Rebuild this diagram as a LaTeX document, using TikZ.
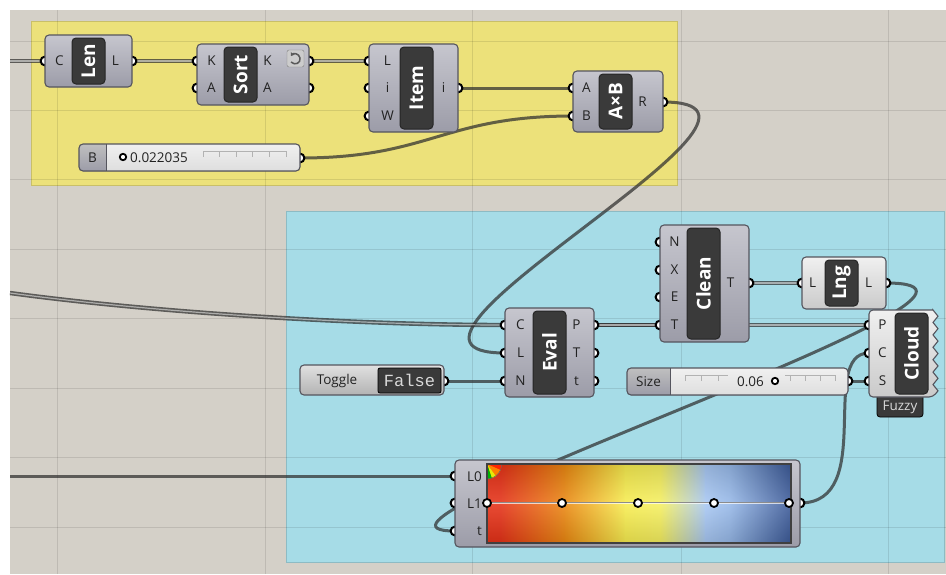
\documentclass[tikz,border=0pt]{standalone}
\usepackage{fontspec}
\setmainfont{Open Sans}
\newfontfamily\monofont{Liberation Mono}
\usetikzlibrary{calc,arrows.meta}
\pgfdeclarelayer{achtergrond}
\pgfdeclarelayer{draden}
\pgfdeclarelayer{poorten}
\pgfsetlayers{achtergrond,draden,poorten,main}
\definecolor{canvas}{HTML}{D4D0C8}
\definecolor{geel}{HTML}{ECE17A}
\definecolor{cyaan}{HTML}{A6DCE7}
\definecolor{draad}{HTML}{2E2E2E}
\definecolor{blokboven}{HTML}{C6C6CE}
\definecolor{blokonder}{HTML}{9C9CA8}
\definecolor{lichtboven}{HTML}{F0F0F0}
\definecolor{lichtonder}{HTML}{CACACA}
\definecolor{rand}{HTML}{55555E}
\definecolor{capsule}{HTML}{3A3A3A}
\definecolor{tekst}{HTML}{222222}
\tikzset{
    donker/.style={top color=blokboven, bottom color=blokonder, draw=rand, line width=1.1pt, rounded corners=4pt},
    licht/.style={top color=lichtboven, bottom color=lichtonder, draw=rand, line width=1.1pt, rounded corners=4pt},
    capsulestijl/.style={fill=capsule, draw=black!85, line width=1pt, rounded corners=4pt},
    titel/.style={text=white, font=\fontsize{19}{21}\selectfont\bfseries, rotate=90, inner sep=0pt},
    poortlabel/.style={text=tekst, font=\fontsize{13.5}{15}\selectfont, inner sep=0pt},
    poort/.style={fill=white, draw=black, line width=2pt},
    draadstijl/.style={draw=draad, line width=3pt, draw opacity=.72},
    lijst/.style={draw=draad, line width=4.4pt, draw opacity=.72, postaction={draw=white, draw opacity=.5, line width=1.2pt}},
    rail/.style={draw=black!30, line width=.7pt}
}
\NewDocumentCommand{\ghblok}{O{donker} m m m m m m m}{ % stijl, naam, x1, y1, x2, y2, capsule x, titel
    \coordinate (#2-w) at (#3,#4);
    \coordinate (#2-e) at (#5,#4);
    \coordinate (#2-cap) at (#7,#4);
    \coordinate (#2-capr) at ({#7+33},#4);
    \draw[#1] (#3,#4) rectangle (#5,#6);
    \draw[capsulestijl] (#7,{#4+3}) rectangle ({#7+33},{#6-3});
    \node[titel] (#2) at ({#7+16.5},{(#4+#6)/2}) {#8};
}
\NewDocumentCommand{\ghpoort}{m m}{ % naam, positie
    \coordinate (#1) at (#2);
    \begin{pgfonlayer}{poorten}\draw[poort] (#1) circle (4.4pt);\end{pgfonlayer}
}
\NewDocumentCommand{\ghin}{m m m}{ % blok, label, y
    \ghpoort{#1-in-#2}{#1-w |- 0,#3}
    \node[poortlabel] (#1-lin-#2) at ($(#1-cap |- 0,#3)+(-12.5,0)$) {#2};
}
\NewDocumentCommand{\ghuit}{m m m}{ % blok, label, y
    \ghpoort{#1-out-#2}{#1-e |- 0,#3}
    \node[poortlabel] (#1-lout-#2) at ($(#1-capr |- 0,#3)+(10.5,0)$) {#2};
}
\begin{document}
\begin{tikzpicture}[x=1pt, y=-1pt]
    \useasboundingbox (0,0) rectangle (946,574);
    \begin{pgfonlayer}{achtergrond}
        \fill[white] (0,0) rectangle (946,574);
        \fill[canvas] (10,10) rectangle (946,574);
        \draw[fill=geel, draw=geel!85!black] (31,21) rectangle (677,185);
        \draw[fill=cyaan, draw=cyaan!85!black] (286,211) rectangle (944,562);
        \foreach \x in {57,265,472,681,888}
            \draw[black, opacity=.1, line width=1pt] (\x,10) -- (\x,574);
        \foreach \y in {41,110,179,249,318,388,457,527}
            \draw[black, opacity=.1, line width=1pt] (10,\y) -- (946,\y);
    \end{pgfonlayer}

    % bovenste groep
    \ghblok{len}{45}{35}{132}{87}{72}{Len}
    \ghin{len}{C}{61}
    \ghuit{len}{L}{61}

    \ghblok{sort}{197}{44}{309}{105}{224}{Sort}
    \ghin{sort}{K}{61}
    \ghin{sort}{A}{88}
    \ghuit{sort}{K}{61}
    \ghuit{sort}{A}{88}
    \draw[fill=black!20, draw=black!50, rounded corners=2pt] (287,50) rectangle (304,67);
    \draw[draw=black!65, line width=1.5pt, -{Stealth[length=3.5pt,width=5pt]}] (291,62) .. controls (295,66) and (301,63) .. (300,58) .. controls (299,53) and (293,53) .. (291,56);

    \ghblok{item}{369}{44}{458}{132}{400}{Item}
    \ghin{item}{L}{61}
    \ghin{item}{i}{88}
    \ghin{item}{W}{116}
    \ghuit{item}{i}{88}

    \ghblok{axb}{573}{71}{663}{132}{599}{A×B}
    \ghin{axb}{A}{88}
    \ghin{axb}{B}{116}
    \ghuit{axb}{R}{102}

    % schuifregelaar B
    \ghpoort{sliderB-uit}{300,158}
    \fill[top color=lichtboven, bottom color=black!13, rounded corners=4pt] (79,144) rectangle (300,171);
    \begin{scope}
        \clip[rounded corners=4pt] (79,144) rectangle (300,171);
        \fill[top color=black!25, bottom color=blokonder] (79,144) rectangle (106,171);
    \end{scope}
    \draw[draw=rand, line width=1.1pt, rounded corners=4pt] (79,144) rectangle (300,171);
    \draw[draw=rand, line width=.8pt] (106,144) -- (106,171);
    \node[poortlabel] (sliderB-naam) at (92.5,157.5) {B};
    \draw[rail] (203,151) -- (286,151);
    \foreach \x in {203,219.6,...,287}
        \draw[rail] (\x,151) -- (\x,157);
    \draw[fill=white, draw=black, line width=1.8pt] (123,157) circle (3.2pt);
    \node[poortlabel, anchor=west] (sliderB-waarde) at (130,157.5) {0.022035};

    % onderste groep
    \ghblok{eval}{505}{308}{594}{397}{533}{Eval}
    \ghin{eval}{C}{325}
    \ghin{eval}{L}{353}
    \ghin{eval}{N}{381}
    \ghuit{eval}{P}{325}
    \ghuit{eval}{T}{353}
    \ghuit{eval}{t}{381}

    \ghblok{clean}{660}{225}{749}{342}{687}{Clean}
    \ghin{clean}{N}{242}
    \ghin{clean}{X}{270}
    \ghin{clean}{E}{297}
    \ghin{clean}{T}{325}
    \ghuit{clean}{T}{283}

    \ghblok[licht]{lng}{802}{257}{886}{309}{825}{Lng}
    \ghin{lng}{L}{283}
    \ghuit{lng}{L}{283}

    % toggle
    \ghpoort{toggle-uit}{444,381}
    \draw[top color=black!12, bottom color=black!30, draw=rand, line width=1.1pt, rounded corners=4pt] (300,365) rectangle (444,395);
    \node[poortlabel] (toggle-naam) at (337,381) {Toggle};
    \draw[fill=capsule, draw=black, line width=.8pt, rounded corners=2pt] (378,368) rectangle (441,393);
    \node[text=black!15, font=\monofont\fontsize{17}{19}\selectfont, inner sep=0pt] (toggle-waarde) at (409.5,380) {False};

    % schuifregelaar Size
    \ghpoort{size-uit}{848,381}
    \fill[top color=lichtboven, bottom color=black!13, rounded corners=4pt] (627,368) rectangle (848,395);
    \begin{scope}
        \clip[rounded corners=4pt] (627,368) rectangle (848,395);
        \fill[top color=black!25, bottom color=blokonder] (627,368) rectangle (670,395);
    \end{scope}
    \draw[draw=rand, line width=1.1pt, rounded corners=4pt] (627,368) rectangle (848,395);
    \draw[draw=rand, line width=.8pt] (670,368) -- (670,395);
    \node[poortlabel] (size-naam) at (648.5,381.5) {Size};
    \draw[rail] (685,375) -- (728,375) (785,375) -- (835,375);
    \foreach \x in {685,701.7,718.4,790,805,820,835}
        \draw[rail] (\x,375) -- (\x,381);
    \node[poortlabel, anchor=east] (size-waarde) at (764,381.5) {0.06};
    \draw[fill=white, draw=black, line width=1.8pt] (775,381) circle (3.2pt);

    % cloud
    \coordinate (cloud-w) at (869,310);
    \coordinate (cloud-cap) at (895,310);
    \draw[fill=capsule, draw=black, line width=.8pt, rounded corners=3pt] (877,390) rectangle (923,417);
    \node[text=black!15, font=\fontsize{13.5}{15}\selectfont, inner sep=0pt] (cloud-fuzzy) at (900,407.5) {Fuzzy};
    \draw[licht, sharp corners] {[rounded corners=4pt] (933,310) -- (869,310) -- (869,397) -- (933,397)}
        \foreach \k in {0,...,6} { -- (938,{397-12.43*\k-6.2}) -- (933,{397-12.43*(\k+1)}) } -- cycle;
    \draw[capsulestijl] (895,313) rectangle (928,394);
    \node[titel] (cloud) at (911.5,353.5) {Cloud};
    \ghin{cloud}{P}{325}
    \ghin{cloud}{C}{353}
    \ghin{cloud}{S}{381}

    % gradient
    \ghpoort{grad-in-L0}{455,476}
    \ghpoort{grad-in-L1}{455,503}
    \ghpoort{grad-in-t}{455,531}
    \ghpoort{grad-uit}{800,503}
    \draw[donker] (455,460) rectangle (800,547);
    \node[poortlabel, anchor=east] (grad-lin-L0) at (482,476.5) {L0};
    \node[poortlabel, anchor=east] (grad-lin-L1) at (482,503.5) {L1};
    \node[poortlabel, anchor=east] (grad-lin-t) at (482,531.5) {t};
    \fill[color={rgb,255:red,230;green,50;blue,24}] (487,464) rectangle (501,543);
    \shade[left color={rgb,255:red,230;green,50;blue,24}, right color={rgb,255:red,236;green,138;blue,18}] (500,464) rectangle (566,543);
    \shade[left color={rgb,255:red,236;green,138;blue,18}, right color={rgb,255:red,248;green,238;blue,80}] (565,464) rectangle (626,543);
    \shade[left color={rgb,255:red,248;green,238;blue,80}, right color={rgb,255:red,246;green,240;blue,96}] (625,464) rectangle (661,543);
    \shade[left color={rgb,255:red,246;green,240;blue,96}, right color={rgb,255:red,168;green,200;blue,244}] (660,464) rectangle (706,543);
    \shade[left color={rgb,255:red,168;green,200;blue,244}, right color={rgb,255:red,150;green,184;blue,232}] (705,464) rectangle (731,543);
    \shade[left color={rgb,255:red,150;green,184;blue,232}, right color={rgb,255:red,60;green,90;blue,152}] (730,464) rectangle (791,543);
    \shade[top color=black, bottom color=black, middle color=white, opacity=.12] (487,464) rectangle (791,543);
    \begin{scope}
        \clip (487,464) rectangle (791,543);
        \clip (487,464) circle (15pt);
        \fill[red!85!yellow] (487,464) -- (505,464) -- (505,472) -- cycle;
        \fill[orange] (487,464) -- (505,472) -- (501,483) -- cycle;
        \fill[yellow!90!green] (487,464) -- (501,483) -- (494,485) -- cycle;
        \fill[green!70!black] (487,464) -- (494,485) -- (487,485) -- cycle;
        \draw[draw=black!60, line width=1pt] (487,464) circle (15pt);
    \end{scope}
    \draw[draw=black!75, line width=1.2pt] (487,464) rectangle (791,543);
    \draw[draw=black!45, line width=.8pt] (487,502.3) -- (789,502.3);
    \draw[draw=white, opacity=.7, line width=.7pt] (487,503.6) -- (789,503.6);
    \foreach \x [count=\i] in {487,562,638,714,789}
        \draw[fill=white, draw=black, line width=1.8pt] (\x,503) circle (4pt) coordinate (grip-\i);

    % vrije einden links
    \coordinate (links-len) at (10,61);
    \coordinate (links-eval) at (10,293);
    \coordinate (links-grad) at (10,476);

    % draden
    \begin{pgfonlayer}{draden}
        \draw[lijst] (links-len) -- (len-in-C);
        \draw[lijst] (len-out-L) -- (sort-in-K);
        \draw[lijst] (sort-out-K) -- (item-in-L);
        \draw[draadstijl] (item-out-i) -- (axb-in-A);
        \draw[draadstijl] (sliderB-uit) .. controls +(130,0) and +(-130,0) .. (axb-in-B);
        \draw[draadstijl] (axb-out-R) .. controls +(170,0) and +(-170,0) .. (eval-in-L);
        \draw[lijst] (links-eval) .. controls (150,312) and (350,325) .. (eval-in-C);
        \draw[draadstijl] (toggle-uit) -- (eval-in-N);
        \draw[lijst] (eval-out-P) -- (cloud-in-P);
        \draw[lijst] (eval-out-P) -- (clean-in-T);
        \draw[lijst] (clean-out-T) -- (lng-in-L);
        \draw[draadstijl] (lng-out-L) .. controls +(190,0) and +(-150,0) .. (grad-in-t);
        \draw[draadstijl] (size-uit) -- (cloud-in-S);
        \draw[draadstijl] (grad-uit) .. controls +(77,0) and +(-51,0) .. (cloud-in-C);
        \draw[draadstijl] (links-grad) -- (grad-in-L0);
    \end{pgfonlayer}
\end{tikzpicture}
\end{document}
